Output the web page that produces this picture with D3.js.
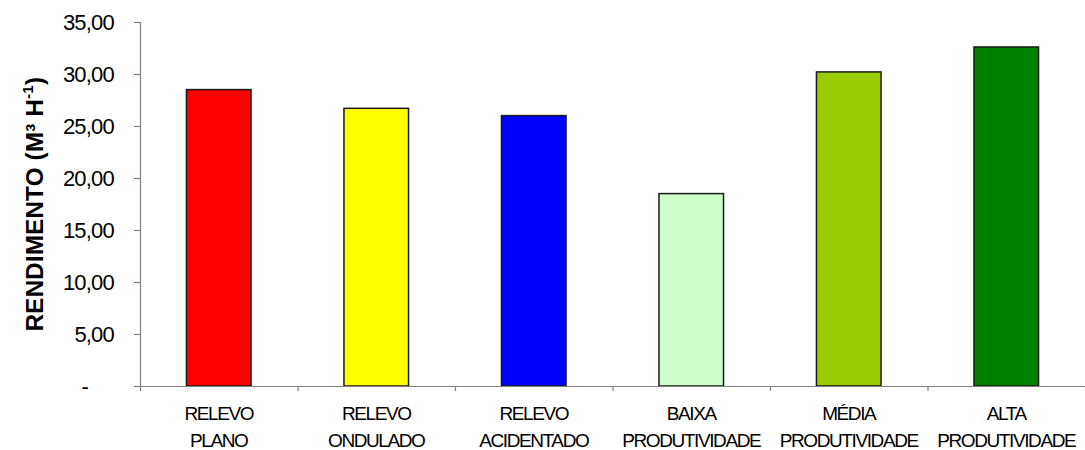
<!DOCTYPE html>
<html>
<head>
<meta charset="utf-8">
<script src="https://cdn.jsdelivr.net/npm/d3@7"></script>
<style>
  html, body { margin: 0; padding: 0; background: #fff; }
  svg { display: block; font-family: Arial, "Liberation Sans", sans-serif; }
</style>
</head>
<body>
<svg id="chart" width="1085" height="450"></svg>
<script>
// Rendimento por classe de relevo e de produtividade
const categories = [
  ["RELEVO", "PLANO"],
  ["RELEVO", "ONDULADO"],
  ["RELEVO", "ACIDENTADO"],
  ["BAIXA", "PRODUTIVIDADE"],
  ["MÉDIA", "PRODUTIVIDADE"],
  ["ALTA", "PRODUTIVIDADE"]
];
const values = [28.5, 26.7, 26.0, 18.5, 30.2, 32.6];
const colors = ["#FF0000", "#FFFF00", "#0000FF", "#CCFFCC", "#99CC00", "#008000"];
const yTicks = [0, 5, 10, 15, 20, 25, 30, 35];

const svg = d3.select("#chart");
const margin = { left: 140, right: 0, top: 22, bottom: 64 };
const W = 1085, H = 450;

const keys = categories.map((c, i) => i);
const x = d3.scaleBand().domain(keys).range([margin.left, W - margin.right]).paddingInner(0.59).paddingOuter(0.295);
const xTickScale = d3.scaleLinear().domain([0, categories.length]).range([margin.left, W - margin.right]);
const y = d3.scaleLinear().domain([0, 35]).range([H - margin.bottom, margin.top]);

const fmt = v => v === 0 ? "-" : d3.format(".2f")(v).replace(".", ",");

// Bars
svg.append("g").selectAll("rect").data(values).join("rect")
  .attr("x", (d, i) => x(i))
  .attr("width", x.bandwidth())
  .attr("y", d => y(d))
  .attr("height", d => y(0) - y(d))
  .attr("fill", (d, i) => colors[i])
  .attr("stroke", "#1a1a1a")
  .attr("stroke-width", 1.5);

// Y axis
const yAxis = svg.append("g")
  .attr("transform", `translate(${margin.left},0)`)
  .call(d3.axisLeft(y).tickValues(yTicks).tickFormat(fmt).tickSize(6).tickPadding(20));
yAxis.select(".domain").attr("stroke", "#808080").attr("stroke-width", 1.2);
yAxis.selectAll(".tick line").attr("stroke", "#808080").attr("stroke-width", 1.2);
yAxis.selectAll(".tick text")
  .attr("font-size", 22)
  .attr("letter-spacing", "-0.8px")
  .attr("font-family", "Arial, 'Liberation Sans', sans-serif")
  .attr("fill", "#000")
  .attr("dx", d => d === 0 ? -26 : 0);

// X axis (category separators)
const xAxis = svg.append("g")
  .attr("transform", `translate(0,${y(0)})`)
  .call(d3.axisBottom(xTickScale).tickValues(d3.range(categories.length + 1)).tickFormat("").tickSize(5).tickSizeOuter(0));
xAxis.select(".domain").attr("stroke", "#808080").attr("stroke-width", 1.2);
xAxis.selectAll(".tick line").attr("stroke", "#808080").attr("stroke-width", 1.2);

// Category labels
const labels = svg.append("g").selectAll("text").data(categories).join("text")
  .attr("text-anchor", "middle")
  .attr("font-size", 19)
  .attr("letter-spacing", "-1.4px")
  .attr("fill", "#000")
  .attr("transform", (d, i) => `translate(${x(i) + x.bandwidth() / 2},0)`);
labels.append("tspan").attr("x", 0).attr("y", 420).text(d => d[0]);
labels.append("tspan").attr("x", 0).attr("y", 447).text(d => d[1]);

// Y axis title
const title = svg.append("text")
  .attr("transform", `translate(43,${(y(0) + y(35)) / 2}) rotate(-90)`)
  .attr("text-anchor", "middle")
  .attr("font-size", 24)
  .attr("letter-spacing", "0.3px")
  .attr("font-weight", "bold")
  .attr("fill", "#000");
title.append("tspan").text("RENDIMENTO (M³ H");
title.append("tspan").attr("dy", -10).attr("font-size", 15).text("-1");
title.append("tspan").attr("dy", 10).text(")");
</script>
</body>
</html>
